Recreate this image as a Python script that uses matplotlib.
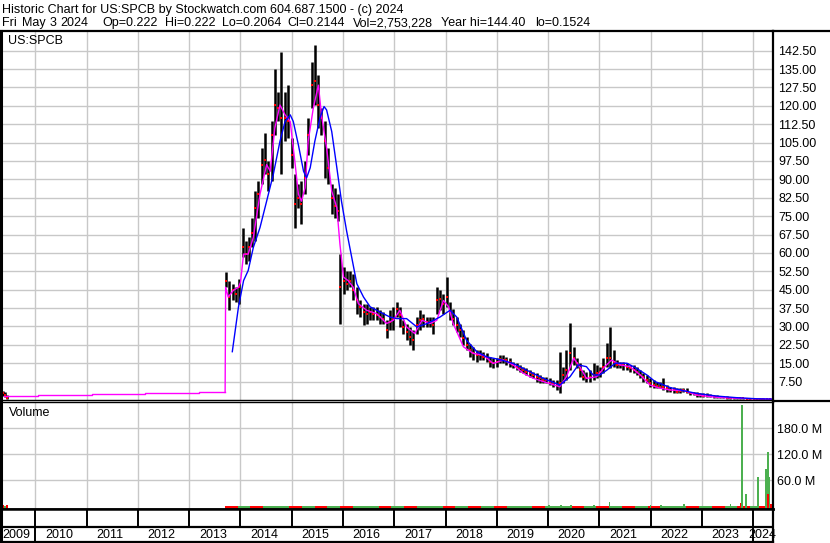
import numpy as np
import matplotlib.pyplot as plt
from matplotlib.lines import Line2D

plt.rcParams['font.family'] = ['Liberation Sans', 'DejaVu Sans']

W, H = 830, 543

# price bars: decimal year, high, low, close
bar_dates = [2009.33, 2009.37, 2009.41, 2009.45,
             2013.72, 2013.78, 2013.85, 2013.91, 2013.98, 2014.04, 2014.11, 2014.17, 2014.22, 2014.28,
             2014.35, 2014.41, 2014.48, 2014.54, 2014.61, 2014.67, 2014.74, 2014.80, 2014.87, 2014.93,
             2015.00, 2015.06, 2015.13, 2015.19, 2015.26, 2015.32, 2015.39, 2015.45, 2015.52, 2015.58,
             2015.65, 2015.71, 2015.78, 2015.84, 2015.90, 2015.95,
             2016.01, 2016.07, 2016.14, 2016.20, 2016.27, 2016.33, 2016.40, 2016.46, 2016.53, 2016.59,
             2016.66, 2016.72, 2016.79, 2016.85, 2016.92, 2016.98,
             2017.05, 2017.11, 2017.18, 2017.24, 2017.31, 2017.37, 2017.44, 2017.50, 2017.57, 2017.63,
             2017.70, 2017.76, 2017.83, 2017.89, 2017.96,
             2018.02, 2018.09, 2018.15, 2018.22, 2018.28, 2018.35, 2018.41, 2018.48, 2018.54, 2018.61,
             2018.67, 2018.74, 2018.80, 2018.87, 2018.93,
             2019.00, 2019.06, 2019.13, 2019.19, 2019.26, 2019.32, 2019.39, 2019.45, 2019.52, 2019.58,
             2019.65, 2019.71, 2019.78, 2019.84, 2019.91, 2019.97,
             2020.04, 2020.10, 2020.17, 2020.23, 2020.30, 2020.36, 2020.43, 2020.50, 2020.56, 2020.62,
             2020.69, 2020.75, 2020.82, 2020.89, 2020.95,
             2021.01, 2021.08, 2021.15, 2021.21, 2021.28, 2021.34, 2021.41, 2021.47, 2021.54, 2021.60,
             2021.67, 2021.73, 2021.80, 2021.86, 2021.93,
             2021.99, 2022.06, 2022.12, 2022.19, 2022.25, 2022.32, 2022.38, 2022.45, 2022.51, 2022.58,
             2022.64, 2022.71, 2022.77, 2022.84, 2022.90, 2022.97,
             2023.03, 2023.10, 2023.16, 2023.23, 2023.29, 2023.36, 2023.42, 2023.49, 2023.55, 2023.62,
             2023.68, 2023.75, 2023.81, 2023.88, 2023.94, 2024.01, 2024.07, 2024.14, 2024.20, 2024.27,
             2024.33]
bar_high = [3.3, 3.7, 3.3, 2.0,
            52.1, 48.7, 47.4, 46.0, 49.4, 70.3, 64.9, 66.3, 74.4, 85.2,
            89.3, 102.8, 108.9, 97.4, 113.6, 135.2, 125.7, 142.0, 125.7, 128.4,
            106.8, 92.0, 87.9, 89.3, 97.4, 114.9, 137.9, 144.7, 132.5, 119.0,
            113.6, 102.8, 87.9, 86.6, 83.9, 59.5,
            54.1, 52.8, 52.8, 51.4, 46.0, 40.6, 39.3, 39.3, 37.9, 37.9,
            37.9, 36.6, 35.9, 32.5, 36.6, 37.9,
            39.9, 37.9, 32.5, 31.1, 29.8, 28.4, 33.9, 36.6, 35.2, 33.9,
            33.9, 33.9, 46.0, 44.7, 43.3,
            50.1, 39.9, 37.2, 33.9, 31.1, 28.4, 25.8, 23.0, 21.7, 20.3,
            20.3, 19.7, 19.0, 17.6, 17.0,
            17.0, 18.3, 18.3, 17.6, 17.0, 15.6, 14.9, 14.3, 13.6, 12.9,
            12.2, 11.6, 10.9, 10.2, 9.5, 9.5,
            8.8, 8.2, 8.2, 19.7, 13.6, 20.4, 31.3, 21.7, 17.0, 15.0,
            12.2, 11.6, 12.2, 15.0, 14.3,
            13.6, 17.0, 23.1, 29.9, 20.4, 16.3, 15.6, 15.6, 15.0, 14.3,
            14.3, 13.6, 12.2, 10.9, 10.2,
            8.8, 8.2, 7.5, 7.5, 8.8, 6.1, 5.4, 5.4, 4.8, 4.8,
            4.8, 4.8, 3.4, 3.4, 3.4, 2.7,
            2.7, 2.7, 2.4, 2.2, 2.0, 1.8, 1.6, 1.5, 1.4, 1.2,
            1.1, 1.1, 1.0, 0.9, 0.9, 0.8, 0.8, 0.7, 0.7, 0.5,
            0.4]
bar_low = [1.2, 1.6, 1.4, 0.6,
           46.0, 36.6, 40.6, 39.9, 39.3, 58.2, 55.5, 56.8, 62.2, 64.9,
           74.4, 87.9, 92.0, 85.2, 89.3, 108.2, 113.6, 92.0, 105.5, 106.8,
           94.7, 70.3, 78.4, 71.7, 83.9, 100.1, 119.0, 120.3, 110.9, 108.2,
           90.6, 87.9, 75.7, 74.4, 73.0, 31.1,
           43.3, 44.7, 46.0, 40.6, 35.2, 33.9, 30.5, 31.1, 32.5, 32.5,
           32.5, 31.1, 31.1, 25.1, 28.4, 28.4,
           33.9, 29.8, 27.1, 24.4, 22.4, 20.3, 27.1, 28.4, 29.8, 29.8,
           29.8, 27.1, 35.2, 36.6, 35.2,
           37.9, 32.5, 30.5, 27.8, 25.8, 22.4, 20.3, 17.6, 16.3, 15.6,
           16.3, 16.3, 15.6, 13.6, 12.9,
           13.6, 14.9, 14.9, 14.3, 13.6, 12.9, 12.2, 11.6, 10.9, 10.2,
           9.5, 8.8, 7.5, 6.8, 6.8, 6.8,
           6.1, 5.4, 4.1, 2.7, 6.8, 8.2, 12.2, 14.3, 12.9, 9.5,
           8.2, 7.5, 7.5, 8.2, 8.8,
           9.5, 10.9, 13.6, 12.9, 13.6, 12.9, 12.9, 12.2, 12.2, 11.6,
           10.9, 10.2, 8.8, 7.5, 6.8,
           5.4, 4.8, 4.8, 4.8, 4.1, 3.4, 3.4, 2.7, 2.7, 2.7,
           3.4, 2.7, 2.0, 2.0, 1.4, 1.4,
           1.1, 1.2, 1.1, 0.9, 0.7, 0.8, 0.7, 0.6, 0.5, 0.5,
           0.4, 0.4, 0.4, 0.3, 0.3, 0.3, 0.25, 0.2, 0.2, 0.2,
           0.2]
bar_close = [2.0, 3.0, 2.2, 0.9,
             48.7, 42.0, 44.7, 43.3, 46.0, 62.2, 59.5, 62.2, 68.0, 78.4,
             83.9, 96.0, 98.0, 92.0, 108.2, 120.3, 119.0, 115.0, 114.9, 113.6,
             100.1, 80.0, 82.5, 80.0, 90.6, 108.2, 128.4, 130.0, 120.3, 114.9,
             105.5, 94.7, 82.5, 79.0, 77.0, 46.0,
             48.7, 47.4, 48.7, 44.7, 40.6, 37.9, 35.9, 35.2, 35.9, 35.2,
             34.5, 33.9, 33.2, 28.4, 31.8, 33.2,
             37.2, 34.5, 29.8, 27.8, 25.8, 24.4, 30.5, 32.5, 33.2, 31.8,
             31.8, 30.5, 40.6, 41.3, 39.3,
             42.0, 35.9, 33.2, 30.5, 28.4, 25.1, 22.4, 20.3, 19.0, 18.3,
             18.3, 17.6, 17.0, 15.6, 14.9,
             15.6, 16.9, 16.3, 16.3, 15.6, 14.3, 13.6, 12.9, 12.2, 11.6,
             10.9, 10.2, 9.5, 8.8, 8.2, 8.2,
             7.5, 6.8, 6.1, 6.8, 10.2, 12.2, 19.0, 17.0, 15.0, 12.2,
             9.5, 8.8, 9.5, 10.2, 10.9,
             11.6, 13.6, 17.0, 17.0, 15.6, 14.3, 14.3, 14.3, 13.6, 12.9,
             12.2, 11.6, 10.2, 9.5, 8.2,
             6.8, 6.1, 5.8, 5.4, 5.4, 4.8, 4.1, 4.1, 3.4, 3.8,
             4.1, 3.4, 2.7, 2.7, 2.0, 2.0,
             1.6, 1.8, 1.6, 1.5, 1.4, 1.2, 1.1, 1.0, 0.9, 0.8,
             0.8, 0.7, 0.7, 0.6, 0.5, 0.5, 0.4, 0.35, 0.3, 0.25,
             0.22]

# short moving average (magenta); before 2013 it steps along the old price
fast_pre_dates = [2009.38, 2010.04, 2011.10, 2012.14, 2013.19, 2013.70]
fast_pre = [1.75, 1.9, 2.3, 2.7, 3.1, 3.1]
fast_dates = [2013.70, 2013.71, 2013.76, 2013.86, 2013.96, 2014.00, 2014.06, 2014.15, 2014.25, 2014.38,
              2014.51, 2014.58, 2014.67, 2014.77, 2014.87, 2014.97, 2015.06, 2015.13, 2015.19, 2015.26,
              2015.32, 2015.42, 2015.52, 2015.58, 2015.68, 2015.78, 2015.88, 2015.94, 2016.01, 2016.10,
              2016.20, 2016.30, 2016.46, 2016.66, 2016.85, 2016.98, 2017.11, 2017.24, 2017.40, 2017.54,
              2017.70, 2017.83, 2017.96, 2018.06, 2018.15, 2018.35, 2018.54, 2018.74, 2018.93, 2019.13,
              2019.32, 2019.52, 2019.71, 2019.91, 2020.23, 2020.36, 2020.50, 2020.62, 2020.75, 2020.95,
              2021.11, 2021.24, 2021.41, 2021.60, 2021.80, 2021.99, 2022.19, 2022.38, 2022.67, 2022.90,
              2023.29, 2023.68, 2024.36]
fast_ma = [3.1, 46.0, 42.0, 44.7, 46.0, 48.0, 59.5, 59.5, 66.3, 83.9,
           96.0, 93.3, 110.9, 120.3, 116.3, 113.6, 97.4, 83.9, 81.1, 86.5,
           105.5, 119.0, 128.4, 116.3, 102.8, 85.2, 78.4, 63.6, 50.1, 48.7,
           46.0, 39.3, 36.6, 35.2, 31.2, 32.5, 36.6, 29.8, 27.1, 32.5,
           31.2, 32.5, 40.6, 38.0, 31.2, 21.7, 19.0, 18.3, 14.9, 16.3,
           14.3, 10.9, 8.9, 7.5, 5.4, 9.5, 17.0, 13.6, 8.8, 9.5,
           13.6, 16.3, 14.3, 13.6, 10.2, 6.1, 4.8, 4.1, 3.8, 2.0,
           1.1, 0.7, 0.3]

# long moving average (blue)
slow_dates = [2013.84, 2013.96, 2014.06, 2014.15, 2014.25, 2014.38, 2014.51, 2014.64, 2014.77, 2014.87,
              2014.97, 2015.03, 2015.13, 2015.23, 2015.29, 2015.36, 2015.45, 2015.55, 2015.63, 2015.68,
              2015.78, 2015.88, 2015.97, 2016.07, 2016.17, 2016.27, 2016.40, 2016.53, 2016.72, 2016.92,
              2017.05, 2017.24, 2017.44, 2017.63, 2017.89, 2018.09, 2018.22, 2018.41, 2018.61, 2018.80,
              2019.06, 2019.32, 2019.58, 2019.91, 2020.23, 2020.43, 2020.59, 2020.75, 2020.88, 2021.01,
              2021.15, 2021.31, 2021.54, 2021.73, 2021.93, 2022.09, 2022.38, 2022.64, 2022.90, 2023.29,
              2023.68, 2024.07, 2024.36]
slow_ma = [19.7, 37.9, 48.7, 52.8, 62.2, 70.3, 81.1, 92.0, 105.5, 113.6,
           116.3, 113.6, 104.0, 93.3, 90.6, 94.7, 105.5, 115.0, 119.7, 118.3,
           109.5, 94.7, 81.1, 69.0, 58.2, 47.4, 42.0, 38.0, 35.9, 33.8,
           33.2, 33.2, 29.8, 31.1, 33.8, 36.6, 33.8, 24.4, 19.7, 17.6,
           16.5, 14.9, 12.2, 8.8, 6.1, 9.5, 14.3, 13.6, 10.2, 10.2,
           12.2, 15.0, 15.0, 12.9, 10.2, 7.5, 5.1, 3.8, 2.7, 1.6,
           0.95, 0.5, 0.4]

# volume in millions: quarterly baseline and single-day spikes
base_dates = [2013.82, 2014.07, 2014.32, 2014.57, 2014.82, 2015.07, 2015.32, 2015.57, 2015.82, 2016.07,
              2016.32, 2016.57, 2016.82, 2017.07, 2017.32, 2017.57, 2017.82, 2018.07, 2018.32, 2018.57,
              2018.82, 2019.07, 2019.32, 2019.57, 2019.82, 2020.07, 2020.32, 2020.57, 2020.82, 2021.07,
              2021.32, 2021.57, 2021.82, 2022.07, 2022.32, 2022.57, 2022.82, 2023.07, 2023.32, 2023.57,
              2023.82, 2024.07, 2024.25]
base_vol = [1.1, 1.0, 1.1, 0.9, 1.0, 1.1, 1.0, 0.9, 1.1, 1.0,
            0.9, 1.0, 1.1, 1.0, 0.9, 1.0, 1.1, 1.0, 0.9, 1.0,
            1.0, 0.9, 1.0, 1.1, 1.0, 1.2, 1.1, 1.2, 1.1, 1.2,
            1.1, 1.0, 1.1, 1.0, 1.1, 1.0, 1.1, 1.0, 1.1, 1.1,
            1.2, 1.2, 1.2]
base_up = [False, True, False, True, True, False, True, False, True, False,
           True, True, False, True, False, True, True, False, True, False,
           True, False, True, True, False, True, True, False, True, False,
           True, False, True, False, True, True, False, True, False, True,
           False, True, False]
early_vol_dates = [2009.33, 2009.37, 2009.41, 2009.45]
early_vol = [1.5, 2.5, 1.0, 2.0]
early_up = [True, False, True, False]
spike_dates = [2020.02, 2020.25, 2020.45, 2020.90, 2021.20, 2022.00, 2022.20, 2022.65, 2023.56,
               2023.76, 2023.78, 2023.86, 2024.10, 2024.26, 2024.29, 2024.30, 2024.32, 2024.35]
spike_vol = [3.0, 2.5, 3.5, 3.0, 10.0, 3.0, 2.5, 5.0, 5.0,
             8.0, 233.0, 28.0, 68.0, 86.0, 125.0, 28.0, 68.0, 5.0]
spike_up = [True, True, True, True, True, True, True, True, True,
            False, True, True, True, True, True, False, True, False]

years = list(range(2010, 2025))
year_labels = [str(y) for y in range(2009, 2025)]
price_ticks = [7.5 * k for k in range(1, 20)]
vol_ticks = [60, 120, 180]

assert len(bar_dates) == len(bar_high) == len(bar_low) == len(bar_close)
assert len(fast_dates) == len(fast_ma) and len(slow_dates) == len(slow_ma)
assert len(base_dates) == len(base_vol) == len(base_up)
assert len(spike_dates) == len(spike_vol) == len(spike_up)

XMIN, XMAX = 2009.327, 2024.39
VMIN, VMAX = -6.2, 240.7
GRID = '#c8c8c8'
GREEN = '#4cb050'


def px_axes(x0, y0, x1, y1):
    return fig.add_axes([x0 / W, 1 - y1 / H, (x1 - x0) / W, (y1 - y0) / H])


fig = plt.figure(figsize=(W / 100, H / 100), dpi=100)

# header
fig.text(2 / W, 1 - 12.5 / H, 'Historic Chart for US:SPCB by Stockwatch.com 604.687.1500 - (c) 2024',
         fontsize=9, va='baseline')
for xp, txt in [(2, 'Fri'), (22, 'May'), (50, '3'), (60, '2024'), (102, 'Op=0.222'), (165, 'Hi=0.222'),
                (222, 'Lo=0.2064'), (287, 'Cl=0.2144'), (353, 'Vol=2,753,228'), (441, 'Year hi=144.40'),
                (535, 'lo=0.1524')]:
    fig.text(xp / W, 1 - 26 / H, txt, fontsize=9, va='baseline')

# main price panel
ax = px_axes(1, 31, 773, 400)
ax.set_xlim(XMIN, XMAX)
ax.set_ylim(0, 150.5)
ax.set_xticks(years)
ax.set_yticks(price_ticks)
ax.set_yticklabels(['%.2f' % v for v in price_ticks])
ax.yaxis.tick_right()
ax.tick_params(axis='y', length=0, pad=4, labelsize=9)
ax.tick_params(axis='x', length=0, labelbottom=False)
ax.grid(True, color=GRID, lw=1)
ax.set_axisbelow(True)
for side, lw in [('left', 2.2), ('top', 1.6), ('right', 1.6), ('bottom', 1.0)]:
    ax.spines[side].set_linewidth(lw)

ax.vlines(bar_dates, bar_low, bar_high, color='black', lw=1.8)
ax.plot(bar_dates, bar_close, 's', color='red', ms=1.6, mew=0)
ax.plot(fast_pre_dates, fast_pre, color='#ff00ff', lw=1.0, drawstyle='steps-post')
ax.plot(fast_dates, fast_ma, color='#ff00ff', lw=1.0)
ax.plot(slow_dates, slow_ma, color='#0000ff', lw=1.0)
ax.text(7 / 772, 1 - 4 / 369, 'US:SPCB', transform=ax.transAxes, fontsize=9, va='top')

# volume panel, bars rise from the panel floor
vax = px_axes(1, 402, 773, 509)
vax.set_xlim(XMIN, XMAX)
vax.set_ylim(VMIN, VMAX)
vax.set_xticks(years)
vax.set_yticks(vol_ticks)
vax.set_yticklabels(['%.1f M' % v for v in vol_ticks])
vax.yaxis.tick_right()
vax.tick_params(axis='y', length=0, pad=3, labelsize=9)
vax.tick_params(axis='x', length=0, labelbottom=False)
vax.grid(True, color=GRID, lw=1)
vax.set_axisbelow(True)
for side, lw in [('left', 2.2), ('top', 1.0), ('right', 1.6), ('bottom', 1.8)]:
    vax.spines[side].set_linewidth(lw)
vax.bar(early_vol_dates, [v - VMIN for v in early_vol], width=0.04, bottom=VMIN,
        color=[GREEN if u else 'red' for u in early_up])
vax.bar(base_dates, [v - VMIN for v in base_vol], width=0.25, bottom=VMIN,
        color=[GREEN if u else 'red' for u in base_up])
vax.bar(spike_dates, [v - VMIN for v in spike_vol], width=0.035, bottom=VMIN,
        color=[GREEN if u else 'red' for u in spike_up])
vax.text(8 / 772, 1 - 5 / 107, 'Volume', transform=vax.transAxes, fontsize=9, va='top')

# date strip
dax = px_axes(1, 509, 773, 542)
dax.set_xlim(XMIN, XMAX)
dax.set_ylim(0, 1)
dax.set_xticks([])
dax.set_yticks([])
for side, lw in [('left', 2.2), ('top', 1.8), ('right', 1.6), ('bottom', 1.6)]:
    dax.spines[side].set_linewidth(lw)
mid = 15 / 33
dax.axhline(mid, color='black', lw=1.6)
for y in years:
    dax.plot([y, y], [mid, 1], color='black', lw=1.4)
for y in (2010, 2024):
    dax.plot([y, y], [0, mid], color='black', lw=1.4)
label_x = [2009.63] + [y + 0.46 for y in range(2010, 2024)] + [2024.19]
for xl, lab in zip(label_x, year_labels):
    dax.text(xl, mid / 2, lab, ha='center', va='center', fontsize=9, clip_on=False)

# frame lines around the right label column
fig.add_artist(Line2D([773 / W, 1], [1 - 30.5 / H] * 2, color='black', lw=1.6))
fig.add_artist(Line2D([773 / W, 1], [1 - 401 / H] * 2, color='black', lw=1.6))

fig.savefig('out.png', dpi=100)
